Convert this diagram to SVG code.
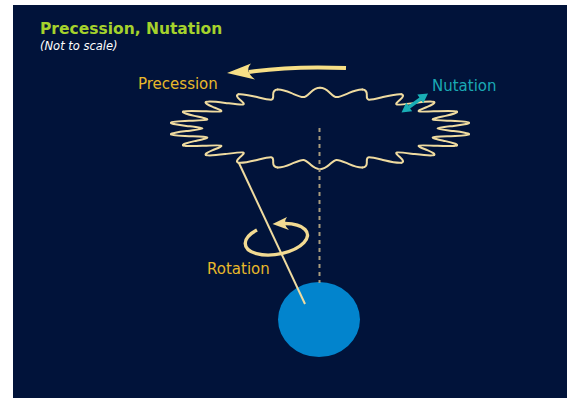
<svg xmlns="http://www.w3.org/2000/svg" xmlns:xlink="http://www.w3.org/1999/xlink" width="567" height="398" viewBox="0 0 567 398">
  <style>
    .lbl { font-family: "DejaVu Sans", "Liberation Sans", sans-serif; font-size: 15px; }
    .gold { fill: #e8b82a; }
    .wave { fill: none; stroke: #efdba0; stroke-width: 2; stroke-linecap: round; vector-effect: non-scaling-stroke; }
  </style>
  <defs>
    <!-- one period of the nutation wobble on a circle of radius 134 (amplitude 16.5, 22 periods) -->
    <path id="wobble" class="wave" d="M150.5,0 C150.5,3.58 142.5,7 133.66,9.56 C124.82,12.12 116.7,13.95 116.3,16.72 C115.9,19.49 123.18,23.53 130.94,28.48 C138.7,33.43 145.41,38.96 144.4,42.4"/>
  </defs>

  <rect x="0" y="0" width="567" height="398" fill="#ffffff"/>
  <rect x="13" y="5" width="554" height="393" fill="#01133a"/>

  <g id="title">
    <text x="40" y="34" font-family="DejaVu Sans, Liberation Sans, sans-serif" font-size="15.5" font-weight="bold" fill="#a5d22c">Precession, Nutation</text>
    <text x="40" y="50" font-family="DejaVu Sans, Liberation Sans, sans-serif" font-size="11.5" font-style="italic" fill="#ffffff">(Not to scale)</text>
  </g>

  <!-- path of the axis tip: circle seen at an angle -->
  <g id="precession-ring" transform="translate(320,128.5) scale(1,0.27) rotate(-90)">
    <use xlink:href="#wobble"/>
    <use xlink:href="#wobble" transform="rotate(16.3636)"/>
    <use xlink:href="#wobble" transform="rotate(32.7273)"/>
    <use xlink:href="#wobble" transform="rotate(49.0909)"/>
    <use xlink:href="#wobble" transform="rotate(65.4545)"/>
    <use xlink:href="#wobble" transform="rotate(81.8182)"/>
    <use xlink:href="#wobble" transform="rotate(98.1818)"/>
    <use xlink:href="#wobble" transform="rotate(114.5455)"/>
    <use xlink:href="#wobble" transform="rotate(130.9091)"/>
    <use xlink:href="#wobble" transform="rotate(147.2727)"/>
    <use xlink:href="#wobble" transform="rotate(163.6364)"/>
    <use xlink:href="#wobble" transform="rotate(180)"/>
    <use xlink:href="#wobble" transform="rotate(196.3636)"/>
    <use xlink:href="#wobble" transform="rotate(212.7273)"/>
    <use xlink:href="#wobble" transform="rotate(229.0909)"/>
    <use xlink:href="#wobble" transform="rotate(245.4545)"/>
    <use xlink:href="#wobble" transform="rotate(261.8182)"/>
    <use xlink:href="#wobble" transform="rotate(278.1818)"/>
    <use xlink:href="#wobble" transform="rotate(294.5455)"/>
    <use xlink:href="#wobble" transform="rotate(310.9091)"/>
    <use xlink:href="#wobble" transform="rotate(327.2727)"/>
    <use xlink:href="#wobble" transform="rotate(343.6364)"/>
  </g>

  <g id="earth">
    <ellipse cx="319" cy="319.5" rx="41" ry="37.5" fill="#0284cd"/>
  </g>

  <g id="connectors">
    <!-- vertical reference axis -->
    <line x1="319.5" y1="128" x2="319.5" y2="283" stroke="#a99c7d" stroke-width="2" stroke-dasharray="4 4"/>
    <!-- tilted rotation axis -->
    <line x1="238.7" y1="162.5" x2="305" y2="304" stroke="#efdba0" stroke-width="2"/>
    <!-- precession arrow -->
    <path d="M346,68 C310,66.5 276,68 249,72" fill="none" stroke="#f7df86" stroke-width="4"/>
    <path d="M227,73 L251,63.5 Q244,71 255,79.5 Z" fill="#f7df86"/>
    <!-- nutation arrow -->
    <polygon points="401.5,112.5 406.2,102.6 408.3,105.6 419.4,97.6 417.3,94.6 428,93.4 423.3,103.3 421.2,100.4 410.1,108.4 412.2,111.3" fill="#19aeb6"/>
    <!-- rotation arrow -->
    <path d="M257,230 A31.5 15 -10 1 0 285,223.5" fill="none" stroke="#f2da92" stroke-width="3.4"/>
    <path d="M272.5,224 L287,217 Q282,223.5 289,230 Z" fill="#f2da92"/>
  </g>

  <g id="labels">
    <text class="lbl gold" x="138" y="89">Precession</text>
    <text class="lbl" x="432" y="91" fill="#1aa9b4">Nutation</text>
    <text class="lbl gold" x="207" y="274">Rotation</text>
  </g>
</svg>
